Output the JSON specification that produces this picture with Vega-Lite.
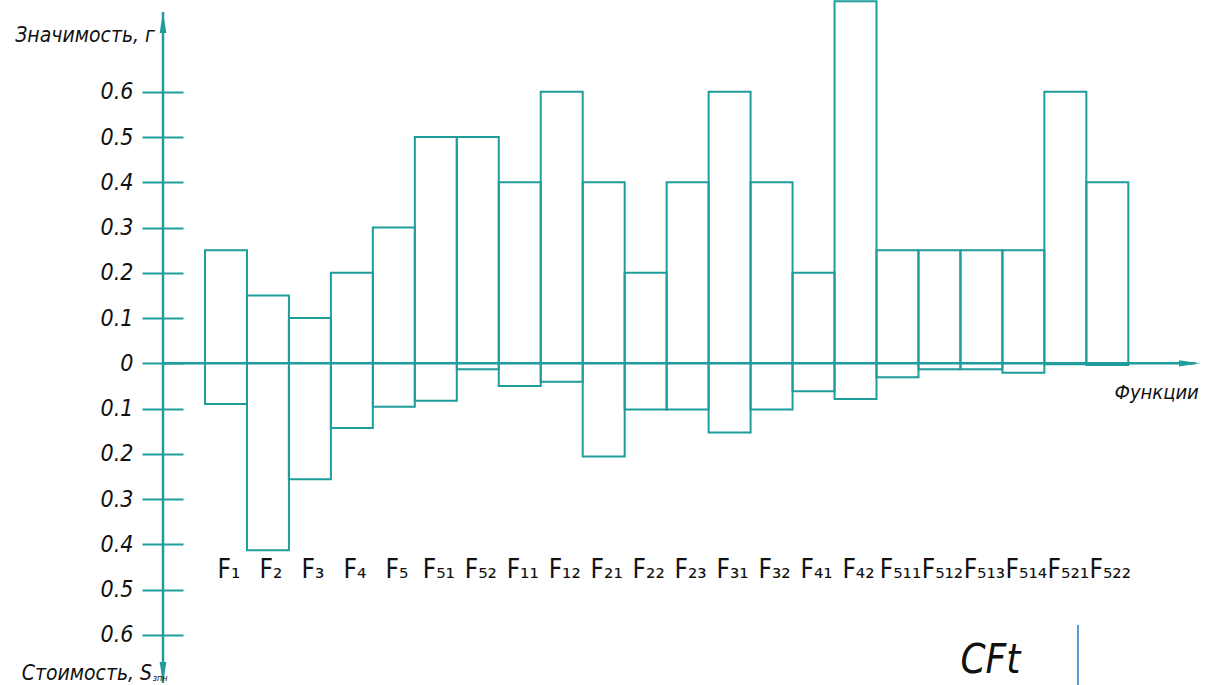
{
  "$schema": "https://vega.github.io/schema/vega-lite/v6.json",
  "width": 1206,
  "height": 685,
  "autosize": "none",
  "padding": 0,
  "background": "white",
  "config": {"view": {"stroke": null}},
  "data": {
    "values": [
      {"i": 1, "name": "F₁", "sig": 0.25, "cost": -0.09},
      {"i": 2, "name": "F₂", "sig": 0.15, "cost": -0.413},
      {"i": 3, "name": "F₃", "sig": 0.1, "cost": -0.256},
      {"i": 4, "name": "F₄", "sig": 0.2, "cost": -0.143},
      {"i": 5, "name": "F₅", "sig": 0.3, "cost": -0.096},
      {"i": 6, "name": "F₅₁", "sig": 0.5, "cost": -0.083},
      {"i": 7, "name": "F₅₂", "sig": 0.5, "cost": -0.013},
      {"i": 8, "name": "F₁₁", "sig": 0.4, "cost": -0.05},
      {"i": 9, "name": "F₁₂", "sig": 0.6, "cost": -0.041},
      {"i": 10, "name": "F₂₁", "sig": 0.4, "cost": -0.206},
      {"i": 11, "name": "F₂₂", "sig": 0.2, "cost": -0.102},
      {"i": 12, "name": "F₂₃", "sig": 0.4, "cost": -0.102},
      {"i": 13, "name": "F₃₁", "sig": 0.6, "cost": -0.153},
      {"i": 14, "name": "F₃₂", "sig": 0.4, "cost": -0.102},
      {"i": 15, "name": "F₄₁", "sig": 0.2, "cost": -0.062},
      {"i": 16, "name": "F₄₂", "sig": 0.8, "cost": -0.079},
      {"i": 17, "name": "F₅₁₁", "sig": 0.25, "cost": -0.031},
      {"i": 18, "name": "F₅₁₂", "sig": 0.25, "cost": -0.013},
      {"i": 19, "name": "F₅₁₃", "sig": 0.25, "cost": -0.013},
      {"i": 20, "name": "F₅₁₄", "sig": 0.25, "cost": -0.021},
      {"i": 21, "name": "F₅₂₁", "sig": 0.6, "cost": -0.002},
      {"i": 22, "name": "F₅₂₂", "sig": 0.4, "cost": -0.004}
    ]
  },
  "layer": [
    {
      "mark": {"type": "bar", "size": 41.97, "fill": "white", "fillOpacity": 0, "stroke": "#1f9c9c", "strokeWidth": 2},
      "encoding": {
        "x": {"field": "i", "type": "quantitative", "scale": {"domain": [-4.384, 24.351], "nice": false, "zero": false, "padding": 0}, "axis": null},
        "y": {
          "field": "sig", "type": "quantitative",
          "scale": {"domain": [-0.711, 0.803], "nice": false, "zero": false, "padding": 0},
          "axis": {
            "orient": "left", "offset": -183, "domain": false, "grid": false, "title": null,
            "values": [-0.6, -0.5, -0.4, -0.3, -0.2, -0.1, 0, 0.1, 0.2, 0.3, 0.4, 0.5, 0.6],
            "labelExpr": "datum.value == 0 ? '0' : format(abs(datum.value), '.1f')",
            "tickSize": 41, "tickWidth": 2, "tickColor": "#1f9c9c",
            "labelPadding": 9, "labelFontSize": 23, "labelFontStyle": "italic",
            "labelFont": "DejaVu Sans Condensed, DejaVu Sans, sans-serif",
            "labelColor": "#111111"
          }
        },
        "y2": {"field": "cost"}
      }
    },
    {
      "mark": {"type": "text", "align": "center", "baseline": "alphabetic", "dx": 3, "fontSize": 26, "font": "DejaVu Sans Condensed, DejaVu Sans, sans-serif", "color": "#111111"},
      "encoding": {
        "x": {"field": "i", "type": "quantitative", "scale": {"domain": [-4.384, 24.351], "nice": false, "zero": false, "padding": 0}},
        "y": {"datum": -0.4745, "type": "quantitative", "scale": {"domain": [-0.711, 0.803], "nice": false, "zero": false, "padding": 0}},
        "text": {"field": "name"}
      }
    },
    {
      "data": {"values": [{}]},
      "mark": {"type": "rule", "stroke": "#1f9c9c", "strokeWidth": 2.5},
      "encoding": {
        "x": {"datum": -0.5, "type": "quantitative", "scale": {"domain": [-4.384, 24.351], "nice": false, "zero": false, "padding": 0}},
        "y": {"datum": 0.7764, "type": "quantitative", "scale": {"domain": [-0.711, 0.803], "nice": false, "zero": false, "padding": 0}},
        "y2": {"datum": -0.7065}
      }
    },
    {
      "data": {"values": [{}]},
      "mark": {"type": "rule", "stroke": "#1f9c9c", "strokeWidth": 2.5},
      "encoding": {
        "x": {"datum": -0.5, "type": "quantitative", "scale": {"domain": [-4.384, 24.351], "nice": false, "zero": false, "padding": 0}},
        "x2": {"datum": 24.1},
        "y": {"datum": 0, "type": "quantitative", "scale": {"domain": [-0.711, 0.803], "nice": false, "zero": false, "padding": 0}}
      }
    },
    {
      "data": {"values": [{}]},
      "mark": {"type": "point", "shape": "M0,-1L0.32,1L-0.32,1Z", "size": 441, "filled": true, "opacity": 1, "color": "#1f9c9c"},
      "encoding": {
        "x": {"datum": -0.5, "type": "quantitative", "scale": {"domain": [-4.384, 24.351], "nice": false, "zero": false, "padding": 0}},
        "y": {"datum": 0.7531, "type": "quantitative", "scale": {"domain": [-0.711, 0.803], "nice": false, "zero": false, "padding": 0}}
      }
    },
    {
      "data": {"values": [{}]},
      "mark": {"type": "point", "shape": "M0,1L0.32,-1L-0.32,-1Z", "size": 441, "filled": true, "opacity": 1, "color": "#1f9c9c"},
      "encoding": {
        "x": {"datum": -0.5, "type": "quantitative", "scale": {"domain": [-4.384, 24.351], "nice": false, "zero": false, "padding": 0}},
        "y": {"datum": -0.6833, "type": "quantitative", "scale": {"domain": [-0.711, 0.803], "nice": false, "zero": false, "padding": 0}}
      }
    },
    {
      "data": {"values": [{}]},
      "mark": {"type": "point", "shape": "M1,0L-1,0.3L-1,-0.3Z", "size": 441, "filled": true, "opacity": 1, "color": "#1f9c9c"},
      "encoding": {
        "x": {"datum": 23.957, "type": "quantitative", "scale": {"domain": [-4.384, 24.351], "nice": false, "zero": false, "padding": 0}},
        "y": {"datum": 0, "type": "quantitative", "scale": {"domain": [-0.711, 0.803], "nice": false, "zero": false, "padding": 0}}
      }
    },
    {
      "data": {"values": [{}]},
      "mark": {"type": "rule", "stroke": "#5b9bd5", "strokeWidth": 2},
      "encoding": {
        "x": {"datum": 21.301, "type": "quantitative", "scale": {"domain": [-4.384, 24.351], "nice": false, "zero": false, "padding": 0}},
        "y": {"datum": -0.5783, "type": "quantitative", "scale": {"domain": [-0.711, 0.803], "nice": false, "zero": false, "padding": 0}},
        "y2": {"datum": -0.711}
      }
    },
    {
      "data": {"values": [{"t": "Значимость, г"}]},
      "mark": {"type": "text", "align": "right", "baseline": "middle", "fontSize": 21, "fontStyle": "italic", "font": "DejaVu Sans Condensed, DejaVu Sans, sans-serif", "color": "#111111"},
      "encoding": {
        "x": {"datum": -0.691, "type": "quantitative", "scale": {"domain": [-4.384, 24.351], "nice": false, "zero": false, "padding": 0}},
        "y": {"datum": 0.7233, "type": "quantitative", "scale": {"domain": [-0.711, 0.803], "nice": false, "zero": false, "padding": 0}},
        "text": {"field": "t"}
      }
    },
    {
      "data": {"values": [{"t": "Функции"}]},
      "mark": {"type": "text", "align": "right", "baseline": "middle", "fontSize": 20, "fontStyle": "italic", "font": "DejaVu Sans Condensed, DejaVu Sans, sans-serif", "color": "#111111"},
      "encoding": {
        "x": {"datum": 24.18, "type": "quantitative", "scale": {"domain": [-4.384, 24.351], "nice": false, "zero": false, "padding": 0}},
        "y": {"datum": -0.0656, "type": "quantitative", "scale": {"domain": [-0.711, 0.803], "nice": false, "zero": false, "padding": 0}},
        "text": {"field": "t"}
      }
    },
    {
      "data": {"values": [{"t": "Стоимость, S"}]},
      "mark": {"type": "text", "align": "right", "baseline": "alphabetic", "fontSize": 21, "fontStyle": "italic", "font": "DejaVu Sans Condensed, DejaVu Sans, sans-serif", "color": "#111111"},
      "encoding": {
        "x": {"datum": -0.76, "type": "quantitative", "scale": {"domain": [-4.384, 24.351], "nice": false, "zero": false, "padding": 0}},
        "y": {"datum": -0.7, "type": "quantitative", "scale": {"domain": [-0.711, 0.803], "nice": false, "zero": false, "padding": 0}},
        "text": {"field": "t"}
      }
    },
    {
      "data": {"values": [{"t": "зпн"}]},
      "mark": {"type": "text", "align": "left", "baseline": "alphabetic", "fontSize": 9, "fontStyle": "italic", "font": "DejaVu Sans Condensed, DejaVu Sans, sans-serif", "color": "#111111"},
      "encoding": {
        "x": {"datum": -0.745, "type": "quantitative", "scale": {"domain": [-4.384, 24.351], "nice": false, "zero": false, "padding": 0}},
        "y": {"datum": -0.703, "type": "quantitative", "scale": {"domain": [-0.711, 0.803], "nice": false, "zero": false, "padding": 0}},
        "text": {"field": "t"}
      }
    },
    {
      "data": {"values": [{"t": "CFt"}]},
      "mark": {"type": "text", "align": "left", "baseline": "alphabetic", "fontSize": 40, "fontStyle": "italic", "font": "DejaVu Sans Condensed, DejaVu Sans, sans-serif", "color": "#111111"},
      "encoding": {
        "x": {"datum": 18.5, "type": "quantitative", "scale": {"domain": [-4.384, 24.351], "nice": false, "zero": false, "padding": 0}},
        "y": {"datum": -0.684, "type": "quantitative", "scale": {"domain": [-0.711, 0.803], "nice": false, "zero": false, "padding": 0}},
        "text": {"field": "t"}
      }
    }
  ]
}
